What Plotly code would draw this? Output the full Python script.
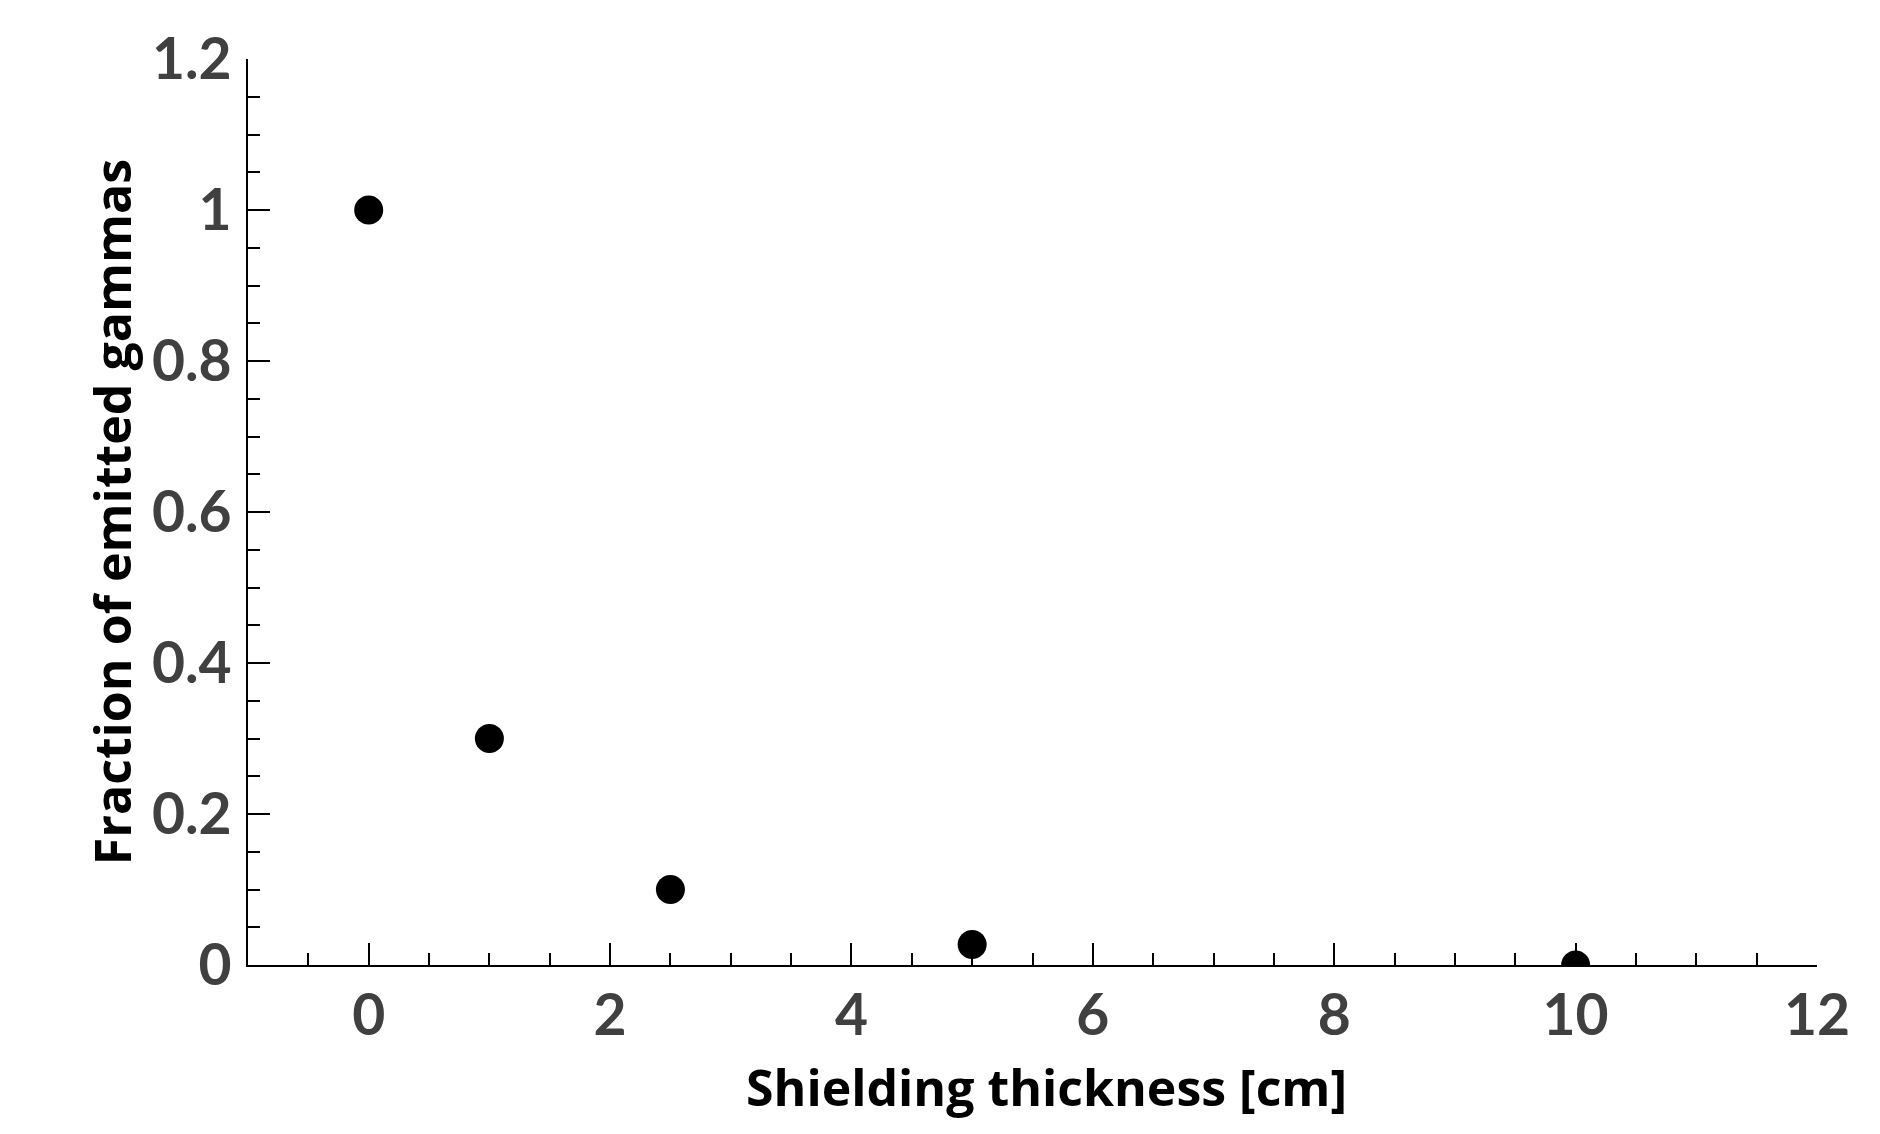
import plotly.graph_objects as go

thickness_cm = [0, 1, 2.5, 5, 10]
fraction_emitted = [1.0, 0.3, 0.1, 0.027, 0.0]

x_title = "Shielding thickness [cm]"
y_title = "Fraction of emitted gammas"

TICK_FONT = "Lato"
TITLE_FONT = "Open Sans"
TICK_COLOR = "#404040"

fig = go.Figure()
fig.add_trace(go.Scatter(
    x=thickness_cm, y=fraction_emitted, mode="markers",
    marker=dict(symbol="circle", size=29, color="black", line=dict(width=0)),
    cliponaxis=True, showlegend=False,
))

axis_common = dict(
    showgrid=False, zeroline=False, showline=True, linecolor="black", linewidth=2,
    ticks="inside", ticklen=22, tickwidth=2, tickcolor="black",
    tickfont=dict(family=TICK_FONT, size=57, color=TICK_COLOR, weight="bold"),
    title_font=dict(family=TITLE_FONT, size=50, color="black", weight="bold"),
    mirror=False,
)

fig.update_layout(
    width=1880, height=1134,
    margin=dict(l=248, r=63, t=59, b=169, pad=0),
    paper_bgcolor="white", plot_bgcolor="white",
    xaxis=dict(
        range=[-1, 12], tick0=0, dtick=2,
        minor=dict(ticks="inside", ticklen=12, tickwidth=2, tickcolor="black", dtick=0.5, tick0=0, showgrid=False),
        **axis_common,
    ),
    yaxis=dict(
        range=[0, 1.2], tick0=0, dtick=0.2,
        minor=dict(ticks="inside", ticklen=12, tickwidth=2, tickcolor="black", dtick=0.05, tick0=0, showgrid=False),
        title=dict(text=y_title, standoff=4),
        ticklabelstandoff=3,
        **axis_common,
    ),
    annotations=[dict(
        text=x_title, xref="paper", yref="paper", x=0.509, y=-0.135,
        xanchor="center", yanchor="middle", showarrow=False,
        font=dict(family=TITLE_FONT, size=50, color="black", weight="bold"),
    )],
)

fig.write_html("out.html")
